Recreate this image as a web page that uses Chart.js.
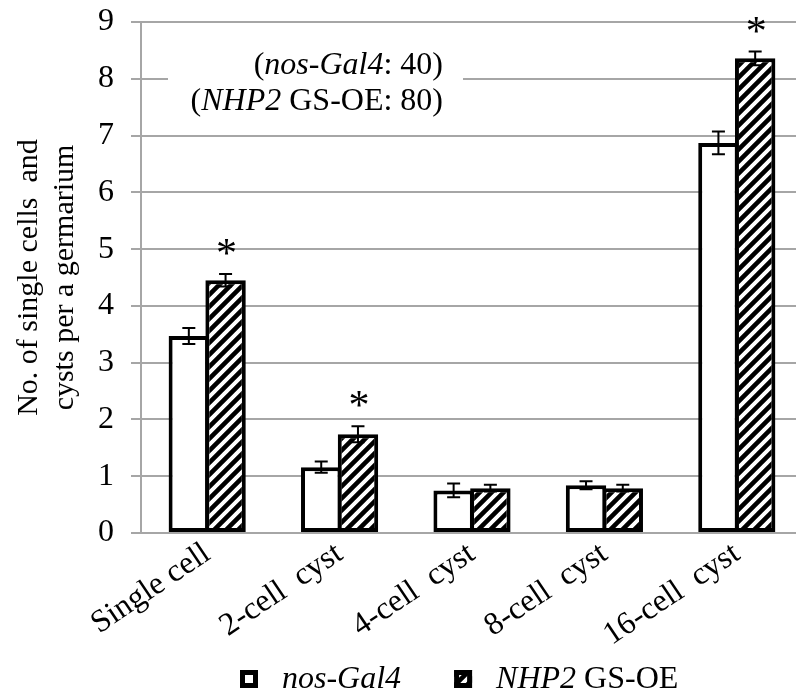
<!DOCTYPE html>
<html><head><meta charset="utf-8">
<script src="https://cdn.jsdelivr.net/npm/chart.js@4/dist/chart.umd.min.js"></script>
<style>html,body{margin:0;padding:0;overflow:hidden;background:#fff}#wrap{width:803px;height:700px;position:relative}</style>
</head><body><div id="wrap"><canvas id="c" width="803" height="700"></canvas></div>
<script>
// ---- data ----
const categories = ['Single cell', '2-cell  cyst', '4-cell  cyst', '8-cell  cyst', '16-cell  cyst'];
const seriesNames = ['nos-Gal4', 'NHP2 GS-OE'];
const nosGal4 = [3.47, 1.16, 0.75, 0.84, 6.87];
const nosGal4Err = [0.14, 0.10, 0.12, 0.07, 0.20];
const nhp2 = [4.45, 1.74, 0.79, 0.79, 8.36];
const nhp2Err = [0.11, 0.14, 0.06, 0.06, 0.12];
const significant = [true, true, false, false, true];
const yTitle = ['No. of single cells  and', 'cysts per a germarium'];
const sampleSizes = [40, 80];
// legend / note text runs: [text, italic]
const legendRuns = [[['nos-Gal4', true]], [['NHP2', true], [' GS-OE', false]]];
const noteRuns = [
  [['(', false], ['nos-Gal4', true], [': ' + sampleSizes[0] + ')', false]],
  [['(', false], ['NHP2', true], [' GS-OE: ' + sampleSizes[1] + ')', false]]
];

const FONT = '"Liberation Serif", "Times New Roman", serif';
const FS = 32;

function makeHatch(size) {
  const c = document.createElement('canvas');
  c.width = size; c.height = size;
  const g = c.getContext('2d');
  g.fillStyle = '#fff'; g.fillRect(0, 0, size, size);
  g.strokeStyle = '#000'; g.lineWidth = size * 0.38;
  g.beginPath();
  for (let k = -1; k <= 1; k++) {
    g.moveTo(-size + k * size, size * 2);
    g.lineTo(size * 2 + k * size, -size);
  }
  g.stroke();
  return document.getElementById('c').getContext('2d').createPattern(c, 'repeat');
}
const hatch = makeHatch(12);

function runsWidth(ctx, runs, size) {
  let w = 0;
  for (const [t, it] of runs) { ctx.font = (it ? 'italic ' : '') + size + 'px ' + FONT; w += ctx.measureText(t).width; }
  return w;
}
function drawRuns(ctx, runs, x, y, size) {
  ctx.textBaseline = 'middle'; ctx.textAlign = 'left'; ctx.fillStyle = '#000';
  for (const [t, it] of runs) {
    ctx.font = (it ? 'italic ' : '') + size + 'px ' + FONT;
    ctx.fillText(t, x, y);
    x += ctx.measureText(t).width;
  }
}

const errData = [nosGal4Err, nhp2Err];

const extrasPlugin = {
  id: 'extras',
  beforeDatasetsDraw(chart) {
    const ctx = chart.ctx;
    ctx.save();
    ctx.fillStyle = '#fff';
    ctx.fillRect(168, 46, 295, 76);
    const right = 443;
    const ys = [66, 102];
    noteRuns.forEach((r, i) => {
      const w = runsWidth(ctx, r, FS);
      drawRuns(ctx, r, right - w, ys[i], FS);
    });
    ctx.restore();
  },
  afterDatasetsDraw(chart) {
    const ctx = chart.ctx;
    const ys = chart.scales.y;
    ctx.save();
    ctx.strokeStyle = '#000';
    ctx.lineWidth = 2;
    chart.data.datasets.forEach((ds, di) => {
      const meta = chart.getDatasetMeta(di);
      meta.data.forEach((el, j) => {
        const v = ds.data[j], e = errData[di][j];
        const x = el.x;
        const t = ys.getPixelForValue(v + e), b = ys.getPixelForValue(v - e);
        ctx.beginPath();
        ctx.moveTo(x, t); ctx.lineTo(x, b);
        ctx.moveTo(x - 6.5, t); ctx.lineTo(x + 6.5, t);
        ctx.moveTo(x - 6.5, b); ctx.lineTo(x + 6.5, b);
        ctx.stroke();
      });
    });
    const meta1 = chart.getDatasetMeta(1);
    ctx.fillStyle = '#000';
    ctx.font = '42px ' + FONT;
    ctx.textAlign = 'center';
    ctx.textBaseline = 'alphabetic';
    significant.forEach((s, j) => {
      if (!s) return;
      const x = meta1.data[j].x;
      const top = ys.getPixelForValue(nhp2[j] + nhp2Err[j]);
      ctx.fillText('*', x + 1, top - 27 + 20);
    });
    ctx.restore();
  },
  afterDraw(chart) {
    const ctx = chart.ctx;
    ctx.save();
    const cy = 679, icon = 18, gap = 24, itemGap = 53;
    let x = 240;
    legendRuns.forEach((r, i) => {
      ctx.fillStyle = i === 0 ? '#fff' : hatch;
      ctx.fillRect(x, cy - icon / 2, icon, icon);
      ctx.strokeStyle = '#000'; ctx.lineWidth = 5;
      ctx.strokeRect(x + 2.5, cy - icon / 2 + 2.5, icon - 5, icon - 5);
      drawRuns(ctx, r, x + icon + gap, cy + 1, FS);
      x += icon + gap + runsWidth(ctx, r, FS) + itemGap;
    });
    ctx.restore();
  }
};

new Chart(document.getElementById('c'), {
  type: 'bar',
  data: {
    labels: categories,
    datasets: [
      { label: seriesNames[0], data: nosGal4, backgroundColor: '#fff', borderColor: '#000', borderWidth: 4, borderSkipped: false },
      { label: seriesNames[1], data: nhp2, backgroundColor: hatch, borderColor: '#000', borderWidth: 4, borderSkipped: false }
    ]
  },
  options: {
    responsive: false,
    animation: false,
    categoryPercentage: 0.555,
    barPercentage: 1.1,
    layout: { padding: { top: 22, bottom: 56, left: 0, right: 0 } },
    plugins: { legend: { display: false }, tooltip: { enabled: false } },
    scales: {
      x: {
        grid: { display: false, drawTicks: false },
        border: { display: false },
        ticks: { color: '#000', font: { family: FONT, size: FS }, minRotation: 34, maxRotation: 34, autoSkip: false, padding: 2 },
        afterFit(s) { s.height = 111; }
      },
      y: {
        min: 0, max: 9,
        ticks: { stepSize: 1, color: '#000', font: { family: FONT, size: FS, lineHeight: 0.25 }, padding: 17 },
        grid: { color: '#a6a6a6', lineWidth: 2, tickLength: 10 },
        border: { display: true, color: '#a6a6a6', width: 2 },
        title: { display: true, text: yTitle, color: '#000', font: { family: FONT, size: 30, lineHeight: 1.2 }, padding: { top: 11 } },
        afterFit(s) { s.width = 141; }
      }
    }
  },
  plugins: [extrasPlugin]
});
</script></body></html>
